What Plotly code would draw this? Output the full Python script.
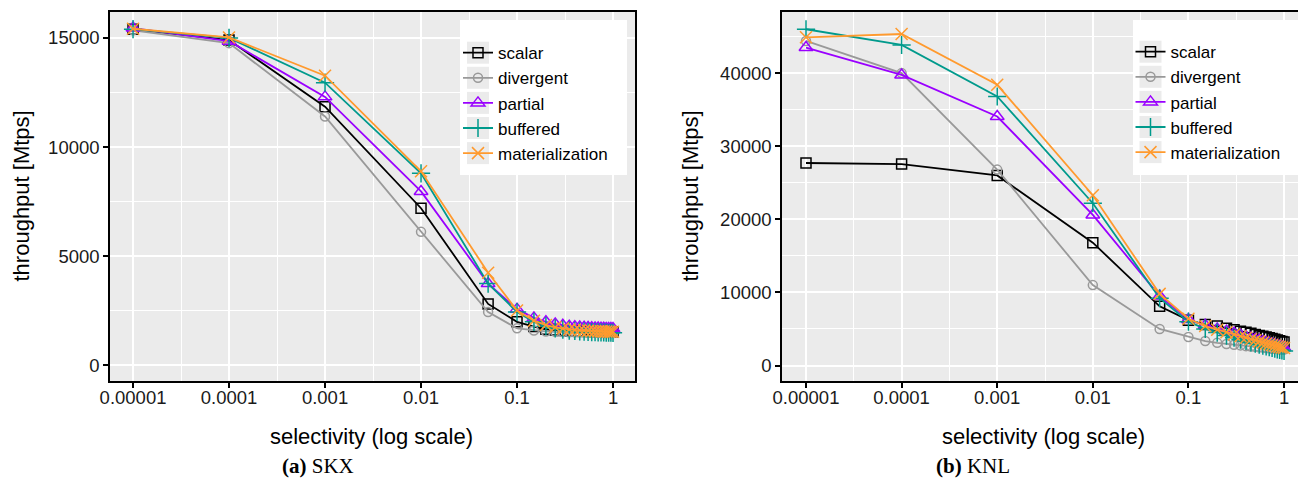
import plotly.graph_objects as go

W, H = 1298, 486

# ---------------- data ----------------
selectivity = [0.00001, 0.0001, 0.001, 0.01, 0.05, 0.1, 0.15, 0.2, 0.25, 0.3, 0.35, 0.4,
               0.45, 0.5, 0.55, 0.6, 0.65, 0.7, 0.75, 0.8, 0.85, 0.9, 0.95, 1.0]

series_names = ["scalar", "divergent", "partial", "buffered", "materialization"]

skx_scalar = [15400, 14900, 11850, 7200, 2820, 2000, 1780, 1660, 1620, 1600, 1590, 1580,
              1575, 1570, 1565, 1560, 1560, 1555, 1555, 1550, 1550, 1550, 1545, 1545]
skx_divergent = [15350, 14760, 11400, 6120, 2450, 1700, 1600, 1560, 1540, 1530, 1520, 1515,
                 1510, 1505, 1500, 1500, 1495, 1495, 1490, 1490, 1490, 1485, 1485, 1485]
skx_partial = [15450, 14850, 12300, 7970, 3750, 2580, 2180, 2000, 1900, 1840, 1800, 1780,
               1760, 1750, 1740, 1730, 1720, 1715, 1710, 1705, 1700, 1700, 1695, 1690]
skx_buffered = [15400, 15000, 12950, 8800, 3750, 2450, 2000, 1800, 1700, 1640, 1600, 1580,
                1560, 1550, 1540, 1530, 1525, 1520, 1515, 1510, 1505, 1500, 1500, 1495]
skx_materialization = [15420, 15020, 13270, 8890, 4250, 2520, 2050, 1850, 1750, 1690, 1650, 1630,
                       1610, 1600, 1590, 1580, 1575, 1570, 1565, 1560, 1555, 1550, 1550, 1545]

knl_scalar = [27700, 27550, 26000, 16800, 8100, 6200, 5600, 5400, 5100, 4900, 4700, 4550,
              4400, 4250, 4100, 4000, 3900, 3800, 3700, 3600, 3500, 3400, 3300, 3200]
knl_divergent = [44400, 40000, 26800, 11000, 5000, 3900, 3350, 3100, 2950, 2850, 2750, 2650,
                 2600, 2550, 2500, 2450, 2400, 2350, 2300, 2280, 2250, 2220, 2200, 2180]
knl_partial = [43500, 39750, 34060, 20600, 9500, 6300, 5500, 5000, 4700, 4400, 4150, 3950,
               3750, 3600, 3450, 3300, 3150, 3050, 2950, 2850, 2750, 2650, 2550, 2450]
knl_buffered = [46000, 43850, 36800, 22200, 9200, 6000, 5000, 4500, 4100, 3800, 3550, 3350,
                3150, 3000, 2850, 2700, 2600, 2500, 2400, 2300, 2200, 2150, 2050, 2000]
knl_materialization = [44900, 45350, 38400, 23300, 9800, 6400, 5400, 4900, 4550, 4250, 4000, 3800,
                       3600, 3450, 3300, 3150, 3000, 2900, 2800, 2700, 2600, 2550, 2450, 2400]

x_tickvals = [0.00001, 0.0001, 0.001, 0.01, 0.1, 1]
x_ticktext = ["0.00001", "0.0001", "0.001", "0.01", "0.1", "1"]
x_minor = [10 ** -4.5, 10 ** -3.5, 10 ** -2.5, 10 ** -1.5, 10 ** -0.5]
skx_yticks = [0, 5000, 10000, 15000]
skx_yticktext = ["0", "5000", "10000", "15000"]
skx_yminor = [2500, 7500, 12500]
knl_yticks = [0, 10000, 20000, 30000, 40000]
knl_yticktext = ["0", "10000", "20000", "30000", "40000"]
knl_yminor = [5000, 15000, 25000, 35000, 45000]

skx = [skx_scalar, skx_divergent, skx_partial, skx_buffered, skx_materialization]
knl = [knl_scalar, knl_divergent, knl_partial, knl_buffered, knl_materialization]

# ---------------- styles ----------------
colors = ["#000000", "#999999", "#9A00FF", "#009A8C", "#FF9A2E"]
symbols = ["square-open", "circle-open", "triangle-up-open", "cross-thin-open", "x-thin-open"]
sizes = [10, 9, 12, 13, 12]
FONT = "Liberation Sans, Arial, Helvetica, sans-serif"
SERIF = "Liberation Serif, Times New Roman, serif"
TICK_FS = 18.5
TITLE_FS = 22

fig = go.Figure()
for panel, (data, xa, ya, leg) in enumerate([(skx, "x", "y", "legend"), (knl, "x2", "y2", "legend2")]):
    for i, name in enumerate(series_names):
        fig.add_trace(go.Scatter(
            x=selectivity, y=data[i], name=name, mode="lines+markers",
            xaxis=xa, yaxis=ya, legend=leg,
            line=dict(color=colors[i], width=1.8),
            marker=dict(symbol=symbols[i], size=sizes[i], color=colors[i],
                        line=dict(color=colors[i], width=1.5)),
        ))

def px(v):
    return v / W

def py(v):
    return 1 - v / H

ydom = [py(381), py(12)]

common_x = dict(
    type="log", showline=True, linecolor="black", linewidth=1.5, mirror=True,
    ticks="outside", ticklen=5, tickwidth=1.5, tickcolor="black",
    tickvals=x_tickvals, ticktext=x_ticktext, ticklabelstandoff=-6,
    tickfont=dict(family=FONT, size=TICK_FS, color="#1a1a1a"),
    showgrid=True, gridcolor="white", gridwidth=2.2, zeroline=False, automargin=False,
    minor=dict(tickvals=x_minor, showgrid=True, gridcolor="white", gridwidth=1.2, ticks=""),
)
common_y = dict(
    showline=True, linecolor="black", linewidth=1.5,
    ticks="outside", ticklen=5, tickwidth=1.5, tickcolor="black",
    tickfont=dict(family=FONT, size=TICK_FS, color="#1a1a1a"),
    showgrid=True, gridcolor="white", gridwidth=2.2, zeroline=False, automargin=False,
    domain=ydom,
)

xaxis = dict(common_x); xaxis.update(domain=[px(110), px(635)], range=[-5.24, 0.229], anchor="y")
xaxis2 = dict(common_x); xaxis2.update(domain=[px(782), 1.0], range=[-5.251, 0.146], anchor="y2")
yaxis = dict(common_y); yaxis.update(range=[-710, 16186], tickvals=skx_yticks, ticktext=skx_yticktext,
                                     mirror=True, anchor="x",
                                     minor=dict(tickvals=skx_yminor, showgrid=True, gridcolor="white",
                                                gridwidth=1.2, ticks=""))
yaxis2 = dict(common_y); yaxis2.update(range=[-2120, 48360], tickvals=knl_yticks, ticktext=knl_yticktext,
                                       mirror=False, anchor="x2",
                                       minor=dict(tickvals=knl_yminor, showgrid=True, gridcolor="white",
                                                  gridwidth=1.2, ticks=""))

shapes = []
LEG_FS = 17
item_h = LEG_FS * 1.3 + 3
legend_boxes = [(460, 627, 478, 52.7), (1133, 1300, 1150.5, 51.7)]
legends = {}
for k, (bx0, bx1, kx, ky) in enumerate(legend_boxes):
    shapes.append(dict(type="rect", xref="paper", yref="paper", x0=px(bx0), x1=px(bx1),
                       y0=py(20), y1=py(175), fillcolor="white", line=dict(width=0), layer="above"))
    for j in range(5):
        cy = ky + j * item_h
        shapes.append(dict(type="rect", xref="paper", yref="paper", x0=px(kx - 11), x1=px(kx + 11),
                           y0=py(cy + 11), y1=py(cy - 11), fillcolor="#EBEBEB",
                           line=dict(width=0), layer="above"))
    top = ky - (5 + item_h / 2)
    legends["legend" if k == 0 else "legend2"] = dict(
        x=px(kx - 20), y=py(top), xanchor="left", yanchor="top",
        bgcolor="rgba(0,0,0,0)", borderwidth=0,
        font=dict(family=FONT, size=LEG_FS, color="black"),
        itemclick=False, itemdoubleclick=False,
    )

annotations = []
for cx in [21, 690]:
    annotations.append(dict(text="throughput [Mtps]", xref="paper", yref="paper", x=px(cx), y=py(196.5),
                            showarrow=False, textangle=-90, xanchor="center", yanchor="middle",
                            font=dict(family=FONT, size=TITLE_FS, color="black")))
for cx in [372, 1043]:
    annotations.append(dict(text="selectivity (log scale)", xref="paper", yref="paper", x=px(cx), y=py(436),
                            showarrow=False, xanchor="center", yanchor="middle",
                            font=dict(family=FONT, size=TITLE_FS, color="black")))
for cx, txt in [(318, "<b>(a)</b> SKX"), (973, "<b>(b)</b> KNL")]:
    annotations.append(dict(text=txt, xref="paper", yref="paper", x=px(cx), y=py(466),
                            showarrow=False, xanchor="center", yanchor="middle",
                            font=dict(family=SERIF, size=21, color="black")))

fig.update_layout(
    width=W, height=H, margin=dict(l=0, r=0, t=0, b=0, pad=0, autoexpand=False),
    paper_bgcolor="white", plot_bgcolor="#EBEBEB",
    xaxis=xaxis, xaxis2=xaxis2, yaxis=yaxis, yaxis2=yaxis2,
    shapes=shapes, annotations=annotations,
    showlegend=True, **legends,
)

fig.write_html("out.html")
